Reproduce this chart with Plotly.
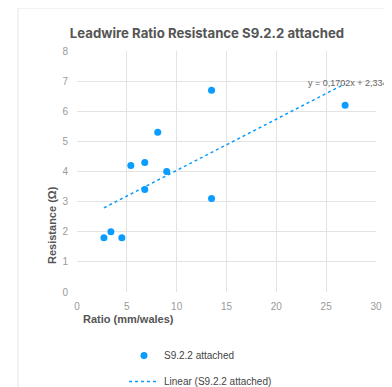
import plotly.graph_objects as go

# Data
ratio = [2.7, 3.4, 4.5, 5.4, 6.8, 6.8, 8.1, 9.0, 13.5, 13.5, 26.9]
resistance = [1.8, 2.0, 1.8, 4.2, 4.3, 3.4, 5.3, 4.0, 6.7, 3.1, 6.2]
slope = 0.1702
intercept = 2.334
x_ticks = [0, 5, 10, 15, 20, 25, 30]
y_ticks = [0, 1, 2, 3, 4, 5, 6, 7, 8]

blue = "#0a9cff"
x_min, x_max = min(ratio), max(ratio)
trend_x = [x_min, x_max]
trend_y = [slope * v + intercept for v in trend_x]

OFF = 8  # page body margin
W, H = 392 - OFF, 387 - OFF
L, R, T, B = 77 - OFF, 16, 51 - OFF, 95
PW, PH = W - L - R, H - T - B


def px(xp):
    return (xp - OFF - L) / PW


def py(yp):
    return (H - B - (yp - OFF)) / PH


fig = go.Figure()
fig.add_trace(go.Scatter(
    x=ratio, y=resistance, mode="markers", name="S9.2.2 attached",
    marker=dict(color=blue, size=7, line=dict(width=0)),
    cliponaxis=False, legendgroup="a",
))
fig.add_trace(go.Scatter(
    x=trend_x, y=trend_y, mode="lines", name="Linear (S9.2.2 attached)",
    line=dict(color=blue, width=1.5, dash="dot"), legendgroup="b",
))

axis_font = dict(family="Liberation Sans, Arial", size=10, color="#9a9a9a")
title_font = dict(family="Liberation Sans, Arial", size=11, color="#555555")

fig.update_layout(
    width=W, height=H,
    margin=dict(l=L, r=R, t=T, b=B, autoexpand=False),
    paper_bgcolor="white", plot_bgcolor="white",
    showlegend=True,
    legend=dict(
        x=px(124), y=py(341), xanchor="left", yanchor="top",
        orientation="v", traceorder="grouped", tracegroupgap=7,
        font=dict(family="Liberation Sans, Arial", size=10, color="#444"),
        bgcolor="rgba(0,0,0,0)",
    ),
    title=dict(
        text="<b>Leadwire Ratio Resistance S9.2.2 attached</b>",
        x=(207 - OFF) / W, xanchor="center", y=1 - (33 - OFF) / H, yanchor="middle",
        font=dict(family="Inter, Noto Sans", size=13.2, color="#555555"),
    ),
    xaxis=dict(
        range=[0, 30], tickvals=x_ticks, showgrid=True, gridcolor="#e3e3e3", gridwidth=1,
        zeroline=False, showline=False, automargin=False,
        tickfont=axis_font, ticks="outside", ticklen=5, tickcolor="rgba(0,0,0,0)",
    ),
    yaxis=dict(
        range=[0, 8], tickvals=y_ticks, showgrid=True, gridcolor="#e3e3e3", gridwidth=1,
        zeroline=False, showline=False, automargin=False,
        tickfont=axis_font, ticks="outside", ticklen=6, tickcolor="rgba(0,0,0,0)",
    ),
    annotations=[
        dict(x=px(390), y=py(83), xref="paper", yref="paper", text="y = 0,1702x + 2,334",
             showarrow=False, xanchor="right", yanchor="middle",
             font=dict(family="Liberation Sans, Arial", size=9, color="#666666")),
        dict(x=px(81), y=py(319), xref="paper", yref="paper", text="<b>Ratio (mm/wales)</b>",
             showarrow=False, xanchor="left", yanchor="middle", font=title_font),
        dict(x=px(52), y=py(225), xref="paper", yref="paper", text="<b>Resistance (Ω)</b>",
             showarrow=False, xanchor="center", yanchor="middle", textangle=-90, font=title_font),
    ],
    shapes=[
        dict(type="rect", xref="paper", yref="paper",
             x0=px(18), x1=px(400), y0=py(395), y1=py(8),
             line=dict(color="#e6e6e6", width=1), fillcolor="rgba(0,0,0,0)", layer="below"),
    ],
)
fig.write_html("out.html")
